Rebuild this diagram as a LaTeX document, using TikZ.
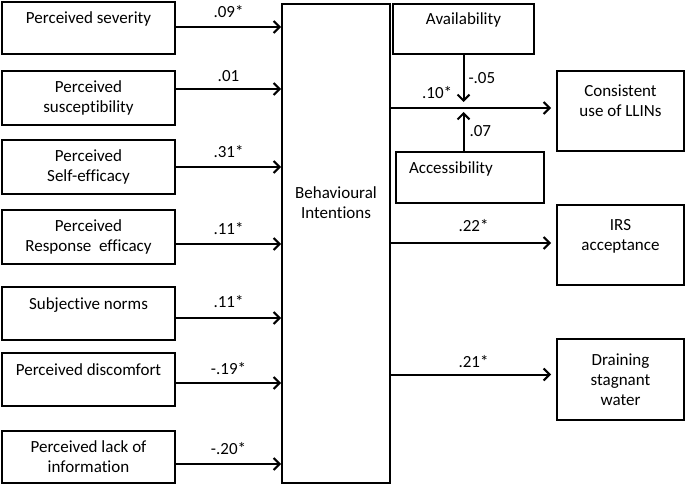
\documentclass[tikz,border=0pt]{standalone}
\usepackage{fontspec}
\setmainfont{Carlito}[Ligatures=NoCommon]
\usepackage{tikz}
\usetikzlibrary{arrows.meta}
\usetikzlibrary{positioning}
\tikzset{
    box/.style={draw=black, line width=2pt, align=center, inner sep=2pt},
    leftbox/.style={box, minimum width=173pt, minimum height=53pt},
    outbox/.style={box, minimum width=127pt, minimum height=80pt},
    effect/.style={draw=black, line width=2pt, -{Straight Barb[length=6pt,width=12pt]}},
    coef/.style={inner sep=0pt}
}
\begin{document}
\begin{tikzpicture}[x=1pt,y=-1pt,font=\fontsize{17}{20}\selectfont]
	\useasboundingbox (0,0) rectangle (685,486);
	% predictors
	\node[leftbox, minimum height=52pt] (sev) at (88.5,28) {Perceived severity\\~};
	\node[leftbox, minimum height=54pt] (sus) at (88.5,98) {Perceived\\susceptibility};
	\node[leftbox, minimum height=54pt] (self) at (88.5,167) {Perceived\\Self-efficacy};
	\node[leftbox, minimum height=54pt] (resp) at (88.5,237) {Perceived\\Response~ efficacy};
	\node[leftbox] (norm) at (88.5,313.5) {Subjective norms\\~};
	\node[leftbox] (disc) at (88.5,379.5) {Perceived discomfort\\~};
	\node[leftbox, minimum height=52pt] (info) at (88.5,457) {Perceived lack of\\information};
	% intentions
	\node[box, minimum width=108pt, minimum height=479pt] (bi) at (336,243.5) {};
	\node[align=center] (bitext) at ([yshift=41pt]bi.center) {Behavioural\\Intentions};
	% moderators and outcomes
	\node[box, minimum width=141pt, minimum height=50pt] (avail) at (463.5,29) {Availability\\~};
	\node[box, text width=122pt, inner xsep=13pt, align=left, minimum height=51pt] (acc) at (470,177.5) {Accessibility\\~};
	\node[outbox] (llin) at (620.5,111) {Consistent\\use of LLINs\\~};
	\node[outbox] (irs) at (620.5,245) {IRS\\acceptance\\~};
	\node[outbox, minimum height=81pt] (drain) at (620.5,379.5) {Draining\\stagnant\\water};

	\draw[effect] ([yshift=1pt]sev.east) -- ([yshift=1pt]sev.east -| bi.west) node[coef, midway, above=8pt] {.09*};
	\draw[effect] ([yshift=9pt]sus.east) -- ([yshift=9pt]sus.east -| bi.west) node[coef, midway, above=6pt] {.01};
	\draw[effect] (self.east) -- (self.east -| bi.west) node[coef, midway, above=8pt] {.31*};
	\draw[effect] ([yshift=-7pt]resp.east) -- ([yshift=-7pt]resp.east -| bi.west) node[coef, midway, above=8pt] {.11*};
	\draw[effect] ([yshift=-4.5pt]norm.east) -- ([yshift=-4.5pt]norm.east -| bi.west) node[coef, midway, above=9pt] {.11*};
	\draw[effect] ([yshift=-3.5pt]disc.east) -- ([yshift=-3.5pt]disc.east -| bi.west) node[coef, midway, above=7pt] {-.19*};
	\draw[effect] ([yshift=-7pt]info.east) -- ([yshift=-7pt]info.east -| bi.west) node[coef, midway, above=8pt] {-.20*};

	\coordinate (mod) at ([yshift=3pt]llin.west -| avail.south);
	\draw[effect, shorten >=5pt] (bi.east |- mod) -- (mod -| llin.west) node[coef, pos=.28, above=8pt] {.10*};
	\draw[effect] (avail.south) -- ([yshift=6pt]mod) node[coef, midway, right=4pt] {-.05};
	\draw[effect] (acc.north -| avail.south) -- ([yshift=-4pt]mod) node[coef, midway, right=5pt] {.07};
	\draw[effect, shorten >=5pt] ([yshift=2pt]irs.west -| bi.east) -- ([yshift=2pt]irs.west) node[coef, midway, above=10pt] {.22*};
	\draw[effect, shorten >=5pt] ([yshift=5pt]drain.west -| bi.east) -- ([yshift=5pt]drain.west) node[coef, midway, above=6pt] {.21*};
\end{tikzpicture}
\end{document}
